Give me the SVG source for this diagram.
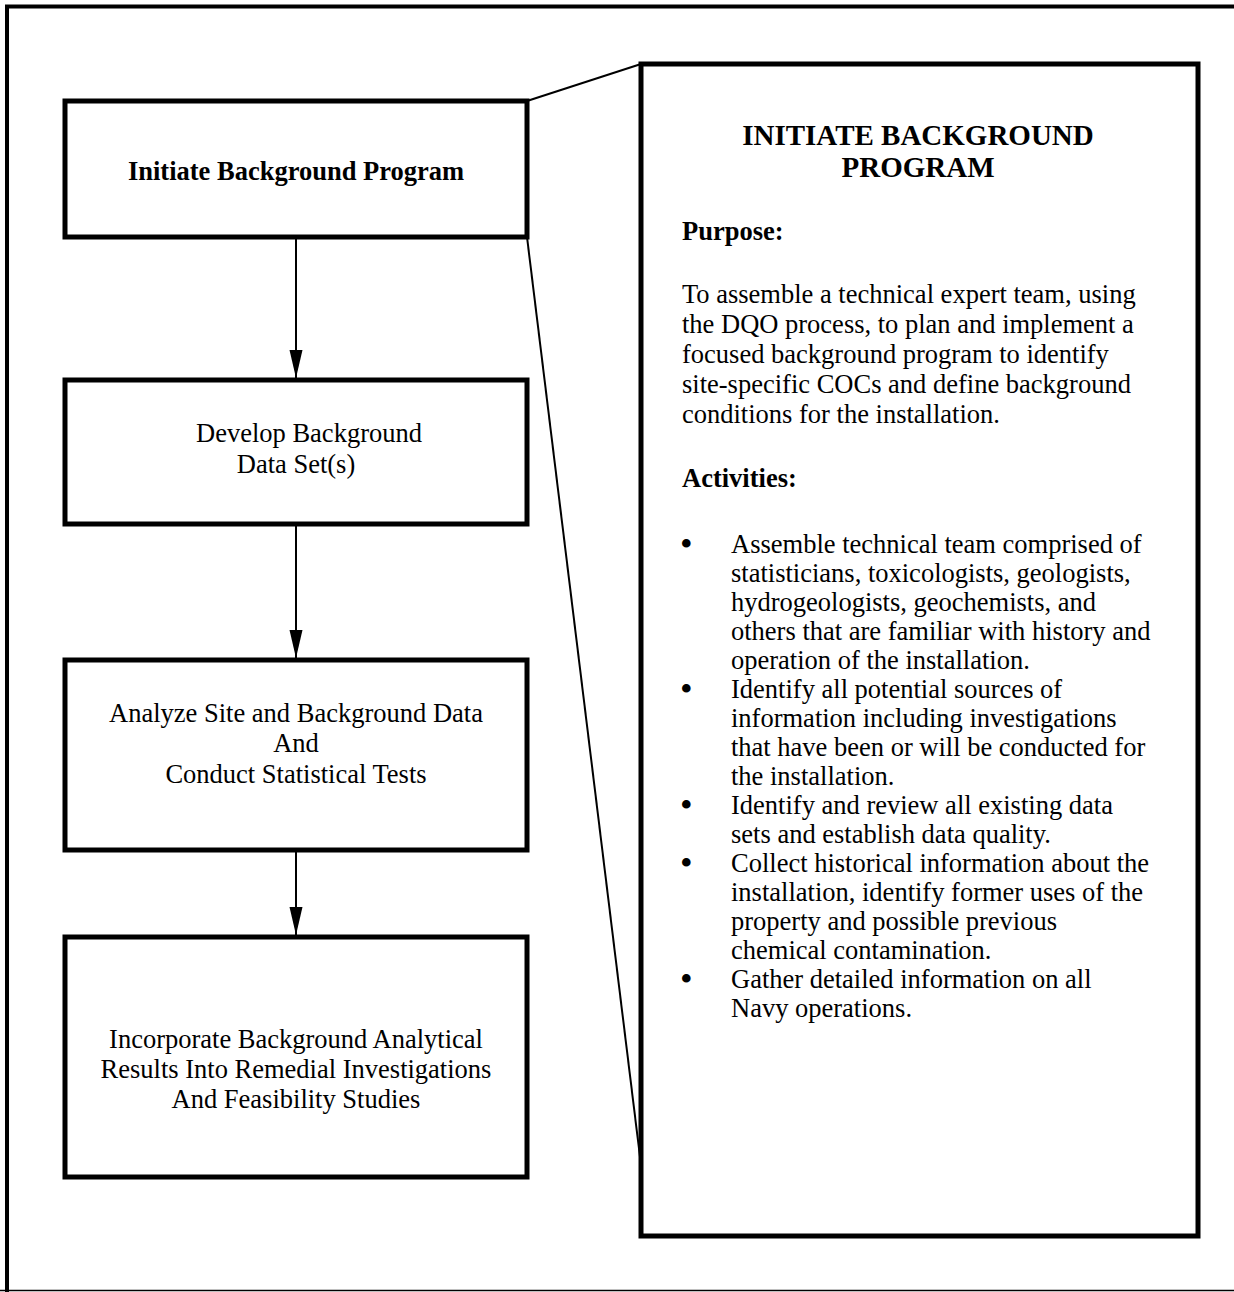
<svg xmlns="http://www.w3.org/2000/svg" width="1234" height="1292" viewBox="0 0 1234 1292">
<style>
text{font-family:"Liberation Serif","Times New Roman",serif;font-size:26.5px;fill:#000}
.b{font-weight:bold}
.c{text-anchor:middle}
.bu{font-size:36px}
.box{fill:#fff;stroke:#000;stroke-width:5}
.con{stroke:#000;stroke-width:2;fill:none}
</style>
<defs>
<marker id="ah" viewBox="0 0 28 14" refX="28" refY="7" markerWidth="28" markerHeight="14" markerUnits="userSpaceOnUse" orient="auto">
<path d="M0,0.5 L28,7 L0,13.5 z" fill="#000"/>
</marker>
</defs>
<rect width="1234" height="1292" fill="#fff"/>
<g id="frame">
<path d="M7,1292 V6.5 H1234" fill="none" stroke="#000" stroke-width="4"/>
<line x1="0" y1="1290.5" x2="1234" y2="1290.5" stroke="#000" stroke-width="1.5"/>
</g>
<g id="connectors">
<line class="con" x1="296" y1="239" x2="296" y2="378" marker-end="url(#ah)"/>
<line class="con" x1="296" y1="526" x2="296" y2="658" marker-end="url(#ah)"/>
<line class="con" x1="296" y1="852" x2="296" y2="935" marker-end="url(#ah)"/>
<line class="con" x1="527" y1="101" x2="641" y2="64"/>
<line class="con" x1="527" y1="237" x2="641" y2="1165"/>
</g>
<g id="node1">
<rect class="box" x="65" y="101" width="462" height="136"/>
<text class="b c" x="296" y="180">Initiate Background Program</text>
</g>
<g id="node2">
<rect class="box" x="65" y="380" width="462" height="144"/>
<text class="c" x="309" y="442">Develop Background</text>
<text class="c" x="296" y="473">Data Set(s)</text>
</g>
<g id="node3">
<rect class="box" x="65" y="660" width="462" height="190"/>
<text class="c" x="296" y="722">Analyze Site and Background Data</text>
<text class="c" x="296" y="752">And</text>
<text class="c" x="296" y="783">Conduct Statistical Tests</text>
</g>
<g id="node4">
<rect class="box" x="65" y="937" width="462" height="240"/>
<text class="c" x="296" y="1048">Incorporate Background Analytical</text>
<text class="c" x="296" y="1078">Results Into Remedial Investigations</text>
<text class="c" x="296" y="1108">And Feasibility Studies</text>
</g>
<g id="detail">
<rect class="box" x="641" y="64" width="557" height="1172"/>
<text class="b c" x="918" y="145" style="font-size:29px">INITIATE BACKGROUND</text>
<text class="b c" x="918" y="177" style="font-size:29px">PROGRAM</text>
<text class="b" x="682" y="240">Purpose:</text>
<text x="682" y="303">To assemble a technical expert team, using</text>
<text x="682" y="333">the DQO process, to plan and implement a</text>
<text x="682" y="363">focused background program to identify</text>
<text x="682" y="393">site-specific COCs and define background</text>
<text x="682" y="423">conditions for the installation.</text>
<text class="b" x="682" y="487">Activities:</text>
<g id="bullets">
<text class="bu" x="680" y="556">•</text>
<text x="731" y="553">Assemble technical team comprised of</text>
<text x="731" y="582">statisticians, toxicologists, geologists,</text>
<text x="731" y="611">hydrogeologists, geochemists, and</text>
<text x="731" y="640">others that are familiar with history and</text>
<text x="731" y="669">operation of the installation.</text>
<text class="bu" x="680" y="701">•</text>
<text x="731" y="698">Identify all potential sources of</text>
<text x="731" y="727">information including investigations</text>
<text x="731" y="756">that have been or will be conducted for</text>
<text x="731" y="785">the installation.</text>
<text class="bu" x="680" y="817">•</text>
<text x="731" y="814">Identify and review all existing data</text>
<text x="731" y="843">sets and establish data quality.</text>
<text class="bu" x="680" y="875">•</text>
<text x="731" y="872">Collect historical information about the</text>
<text x="731" y="901">installation, identify former uses of the</text>
<text x="731" y="930">property and possible previous</text>
<text x="731" y="959">chemical contamination.</text>
<text class="bu" x="680" y="991">•</text>
<text x="731" y="988">Gather detailed information on all</text>
<text x="731" y="1017">Navy operations.</text>
</g>
</g>
</svg>
